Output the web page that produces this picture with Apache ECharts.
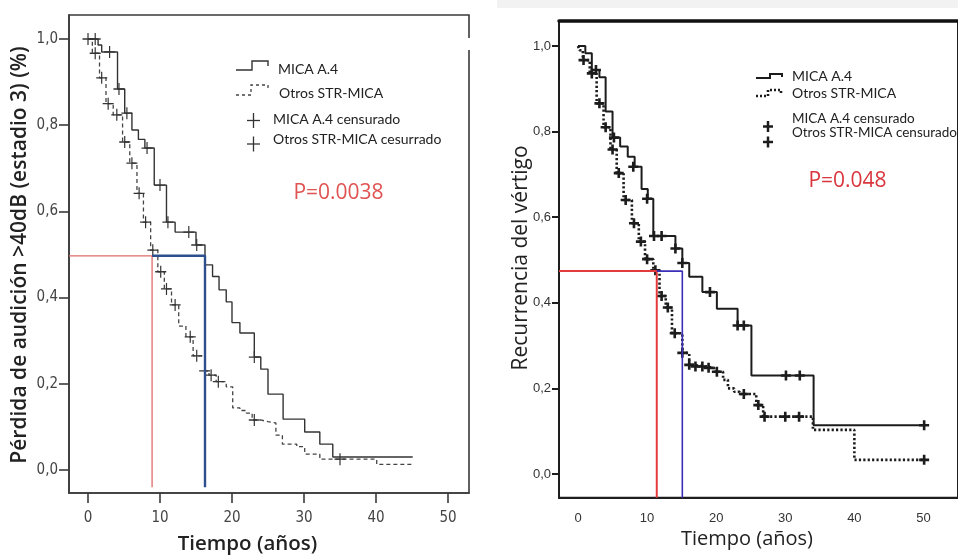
<!DOCTYPE html>
<html><head><meta charset="utf-8">
<script src="https://cdn.jsdelivr.net/npm/echarts@6/dist/echarts.min.js"></script>
<style>html,body{margin:0;padding:0;background:#fff}#c{width:958px;height:557px}</style>
</head><body><div id="c"></div>
<script>
// ---------- shared ticks ----------
const xTickValues = [0, 10, 20, 30, 40, 50];
const yTickValues = [0, 0.2, 0.4, 0.6, 0.8, 1.0];

// ---------- Left panel: hearing loss > 40 dB ----------
const hearingXRange = [-2.64, 52.92];
const hearingYRange = [-0.0534, 1.0557];
const hearingMicaSteps = [[0,1.0],[1.4,0.986],[1.9,0.97],[4.1,0.884],[5.1,0.828],[6.1,0.789],[7.0,0.767],[7.9,0.747],[9.2,0.661],[10.9,0.575],[12.1,0.552],[15.0,0.522],[16.25,0.476],[17.3,0.449],[18.2,0.418],[19.2,0.39],[20.0,0.342],[21.1,0.318],[23.1,0.262],[24.0,0.234],[25.0,0.176],[27.1,0.118],[30.1,0.088],[32.2,0.06],[34.0,0.03],[45.1,0.03]];
const hearingMicaCensored = [[1.0,1.0],[3.0,0.97],[4.3,0.884],[5.4,0.828],[8.2,0.747],[10.0,0.661],[11.1,0.575],[14.0,0.552],[15.1,0.522],[23.1,0.262]];
const hearingOtherSteps = [[0,1.0],[0.6,0.967],[1.6,0.91],[2.5,0.85],[3.5,0.824],[4.8,0.761],[5.8,0.712],[6.8,0.642],[7.7,0.575],[8.7,0.51],[9.7,0.46],[10.6,0.42],[11.6,0.383],[12.6,0.334],[13.6,0.309],[14.6,0.265],[16.2,0.23],[16.8,0.22],[17.8,0.205],[19.2,0.193],[20.1,0.144],[21.1,0.138],[22.0,0.132],[22.8,0.116],[24.0,0.112],[25.0,0.109],[26.1,0.081],[27.0,0.06],[29.0,0.054],[30.1,0.037],[32.2,0.025],[40.1,0.013],[45.1,0.013]];
const hearingOtherCensored = [[0,1.0],[1.0,0.967],[1.9,0.91],[2.8,0.85],[4.0,0.824],[5.1,0.761],[6.1,0.712],[7.1,0.642],[8.0,0.575],[9.0,0.51],[10.1,0.46],[10.9,0.42],[12.1,0.383],[14.2,0.309],[15.1,0.265],[16.2,0.23],[17.1,0.22],[18.1,0.205],[23.1,0.116],[35.0,0.025]];
const hearingMedianLevel = 0.497;
const hearingMedianX = [8.9, 16.25];   // red (other), blue (MICA A.4)
const hearingMedianFloor = -0.04;

// ---------- Right panel: vertigo recurrence ----------
const vertigoXRange = [-2.75, 55];
const vertigoYRange = [-0.0554, 1.0584];
const vertigoMicaSteps = [[0,1.0],[1.06,0.983],[2.0,0.944],[3.1,0.927],[4.0,0.847],[5.0,0.786],[6.1,0.765],[7.2,0.741],[8.2,0.718],[9.2,0.666],[10.1,0.643],[10.9,0.556],[14.1,0.527],[15.1,0.493],[16.1,0.461],[18.0,0.425],[20.1,0.386],[23.1,0.347],[25.1,0.23],[34.1,0.114],[50.1,0.114]];
const vertigoMicaCensored = [[2.6,0.944],[5.2,0.786],[8.0,0.718],[10.0,0.643],[11.0,0.556],[12.1,0.556],[14.1,0.527],[15.1,0.493],[19.1,0.425],[23.1,0.347],[24.0,0.347],[30.1,0.23],[32.1,0.23],[50.1,0.114]];
const vertigoOtherSteps = [[0,1.0],[0.2,0.99],[0.7,0.967],[1.7,0.936],[2.7,0.866],[3.7,0.81],[4.7,0.758],[5.6,0.703],[6.6,0.64],[7.8,0.586],[8.8,0.543],[9.7,0.502],[10.9,0.476],[11.8,0.416],[12.7,0.389],[13.6,0.329],[15.1,0.283],[16.1,0.255],[16.7,0.251],[18.6,0.248],[19.7,0.239],[21.0,0.22],[21.7,0.2],[22.6,0.192],[23.4,0.187],[25.8,0.161],[26.8,0.134],[34.0,0.103],[40.0,0.033],[50.1,0.033]];
const vertigoOtherCensored = [[0.8,0.967],[2.0,0.936],[3.1,0.866],[4.0,0.81],[5.0,0.758],[5.9,0.703],[6.9,0.64],[8.1,0.586],[9.1,0.543],[10.0,0.502],[11.2,0.476],[12.1,0.416],[13.0,0.389],[14.0,0.329],[15.1,0.283],[16.1,0.255],[17.0,0.251],[18.0,0.251],[18.9,0.248],[20.1,0.239],[24.0,0.187],[26.1,0.161],[27.0,0.134],[30.0,0.134],[32.0,0.134],[50.1,0.033]];
const vertigoMedianLevel = 0.474;
const vertigoMedianX = [11.4, 15.1];
const vertigoMedianFloor = -0.0554;

// ---------- text ----------
const legendLabelsLeft = ['MICA A.4', 'Otros STR-MICA', 'MICA A.4 censurado', 'Otros STR-MICA cesurrado'];
const legendLabelsRight = ['MICA A.4', 'Otros STR-MICA', 'MICA A.4 censurado', 'Otros STR-MICA censurado'];
const pValues = ['P=0.0038', 'P=0.048'];
const axisTitles = ['Pérdida de audición >40dB (estadio 3) (%)', 'Tiempo (años)', 'Recurrencia del vértigo', 'Tiempo (años)'];

const plusThin = 'path://M-0.65,-6H0.65V-0.65H6V0.65H0.65V6H-0.65V0.65H-6V-0.65H-0.65Z';
const plusBold = 'path://M-1.3,-5H1.3V-1.3H5V1.3H1.3V5H-1.3V1.3H-5V-1.3H-1.3Z';
const comma = v => v.toFixed(1).replace('.', ',');

const chart = echarts.init(document.getElementById('c'), null, {renderer: 'canvas'});

function xAxisCfg(grid, range, opts) {
  return {
    type: 'value', gridIndex: grid, min: range[0], max: range[1],
    splitLine: {show: false},
    axisLine: {show: true, onZero: false, lineStyle: {color: opts.axisColor, width: opts.axisWidth}},
    axisTick: {show: opts.ticks, customValues: xTickValues, length: opts.tickLen, lineStyle: {color: opts.axisColor, width: opts.axisWidth}},
    axisLabel: {customValues: xTickValues, margin: opts.xMargin, color: opts.labelColor,
      fontFamily: opts.labelFont, fontSize: opts.labelSize, formatter: v => String(v)}
  };
}
function yAxisCfg(grid, range, opts) {
  return {
    type: 'value', gridIndex: grid, min: range[0], max: range[1],
    splitLine: {show: false},
    axisLine: {show: true, onZero: false, lineStyle: {color: opts.axisColor, width: opts.axisWidth}},
    axisTick: {show: true, customValues: yTickValues, length: opts.tickLen, lineStyle: {color: opts.axisColor, width: opts.axisWidth}},
    axisLabel: {customValues: yTickValues, margin: opts.yMargin, color: opts.labelColor,
      fontFamily: opts.labelFont, fontSize: opts.labelSize, formatter: comma}
  };
}

const leftOpts = {axisColor: '#3a3a3a', axisWidth: 1.6, ticks: true, tickLen: 10, xMargin: 18, yMargin: 11, labelColor: '#444',
  labelFont: "'Liberation Sans Narrow', 'DejaVu Sans Condensed', sans-serif", labelSize: 15};
const rightOpts = {axisColor: '#1e1e1e', axisWidth: 2, ticks: false, tickLen: 7, xMargin: 14, yMargin: 8, labelColor: '#333',
  labelFont: "'Liberation Sans', Arial, sans-serif", labelSize: 13};

function stepSeries(data, xi, color, width, dash, z) {
  return {type: 'line', data: data, step: 'end', xAxisIndex: xi, yAxisIndex: xi, symbol: 'none',
    lineStyle: {color: color, width: width, type: dash}, silent: true, z: z};
}
function censorSeries(data, xi, sym, size, color) {
  return {type: 'scatter', data: data, xAxisIndex: xi, yAxisIndex: xi, symbol: sym, symbolSize: size,
    itemStyle: {color: color, opacity: 1}, silent: true, z: 4};
}
function refSeries(points, xi, color, width) {
  return {type: 'line', data: points, xAxisIndex: xi, yAxisIndex: xi, symbol: 'none',
    lineStyle: {color: color, width: width}, silent: true, z: 5};
}

const hearingRed = [[hearingXRange[0], hearingMedianLevel], [hearingMedianX[0], hearingMedianLevel], [hearingMedianX[0], hearingMedianFloor]];
const hearingBlue = [[hearingMedianX[0], hearingMedianLevel], [hearingMedianX[1], hearingMedianLevel], [hearingMedianX[1], hearingMedianFloor]];
const vertigoRed = [[vertigoXRange[0], vertigoMedianLevel], [vertigoMedianX[0], vertigoMedianLevel], [vertigoMedianX[0], vertigoMedianFloor]];
const vertigoBlue = [[vertigoMedianX[0], vertigoMedianLevel], [vertigoMedianX[1], vertigoMedianLevel], [vertigoMedianX[1], vertigoMedianFloor]];

const txtFont = "'Open Sans', 'Noto Sans', sans-serif";
const legFont = "Lato, 'Open Sans', sans-serif";
function T(x, y, text, size, opts) {
  opts = opts || {};
  return {type: 'text', x: x, y: y, rotation: opts.rot || 0, z: 100, silent: true,
    style: {text: text, fontSize: size, fontFamily: opts.font || txtFont, fontWeight: opts.weight || 'normal',
      fill: opts.color || '#222', align: opts.align || 'left', verticalAlign: 'middle'}};
}
function PL(points, color, width, dash) {
  return {type: 'polyline', z: 100, silent: true, shape: {points: points},
    style: {stroke: color, lineWidth: width, fill: null, lineDash: dash || null}};
}
function plus(cx, cy, w, h, color, lw) {
  return {type: 'group', z: 100, silent: true, children: [
    {type: 'line', shape: {x1: cx - w / 2, y1: cy, x2: cx + w / 2, y2: cy}, style: {stroke: color, lineWidth: lw}},
    {type: 'line', shape: {x1: cx, y1: cy - h / 2, x2: cx, y2: cy + h / 2}, style: {stroke: color, lineWidth: lw}}
  ]};
}

const option = {
  animation: false,
  backgroundColor: '#fff',
  grid: [
    {left: 69, top: 15, width: 400, height: 478, show: true, borderColor: '#3a3a3a', borderWidth: 1.6, containLabel: false},
    {left: 559, top: 21, width: 419.3, height: 476.7, show: true, borderColor: '#1e1e1e', borderWidth: 2, containLabel: false}
  ],
  xAxis: [
    xAxisCfg(0, hearingXRange, leftOpts),
    xAxisCfg(1, vertigoXRange, rightOpts),
    {type: 'value', gridIndex: 1, position: 'top', min: vertigoXRange[0], max: vertigoXRange[1],
      axisLine: {show: true, onZero: false, lineStyle: {color: '#111', width: 3.5}},
      axisTick: {show: false}, axisLabel: {show: false}, splitLine: {show: false}}
  ],
  yAxis: [
    yAxisCfg(0, hearingYRange, leftOpts),
    yAxisCfg(1, vertigoYRange, rightOpts)
  ],
  series: [
    stepSeries(hearingMicaSteps, 0, '#333', 1.4, 'solid', 3),
    stepSeries(hearingOtherSteps, 0, '#444', 1.3, [4, 3], 3),
    censorSeries(hearingMicaCensored, 0, plusThin, [11, 12], '#333'),
    censorSeries(hearingOtherCensored, 0, plusThin, [11, 12], '#333'),
    refSeries(hearingRed, 0, '#e06a6a', 1.3),
    refSeries(hearingBlue, 0, '#2d4f8e', 2.4),
    stepSeries(vertigoMicaSteps, 1, '#1c1c1c', 2, 'solid', 3),
    stepSeries(vertigoOtherSteps, 1, '#1c1c1c', 2.6, [2.2, 2.2], 3),
    censorSeries(vertigoMicaCensored, 1, plusBold, [10, 10], '#1c1c1c'),
    censorSeries(vertigoOtherCensored, 1, plusBold, [10, 10], '#1c1c1c'),
    refSeries(vertigoRed, 1, '#e33b3b', 2),
    refSeries(vertigoBlue, 1, '#3b2fb8', 1.6)
  ],
  graphic: [
    {type: 'rect', shape: {x: 497, y: 0, width: 461, height: 8}, style: {fill: '#f2f2f2'}, z: 1, silent: true},
    {type: 'rect', shape: {x: 465, y: 38, width: 8, height: 12}, style: {fill: '#fff'}, z: 100, silent: true},
    // left legend
    PL([[236, 70], [252, 70], [252, 61], [268, 61], [268, 66]], '#333', 1.4),
    PL([[236, 95], [251, 95], [251, 85], [268, 85], [268, 89]], '#444', 1.3, [3, 3]),
    plus(253.5, 120.5, 13, 15, '#333', 1.3),
    plus(253.5, 144, 13, 15, '#333', 1.3),
    T(278, 69, legendLabelsLeft[0], 14, {font: legFont}),
    T(279, 93, legendLabelsLeft[1], 14, {font: legFont}),
    T(273, 119.5, legendLabelsLeft[2], 14, {font: legFont}),
    T(273, 139, legendLabelsLeft[3], 14, {font: legFont}),
    T(338.5, 193, pValues[0], 21, {align: 'center', color: '#e05353'}),
    // right legend
    PL([[756, 78], [770, 78], [770, 74], [782, 74], [782, 77]], '#1c1c1c', 2),
    PL([[756, 96], [768, 96], [768, 90], [781, 90], [781, 95]], '#1c1c1c', 2.6, [2, 2]),
    plus(768, 126.5, 10, 11, '#1c1c1c', 2.5),
    plus(768, 142, 10, 11, '#1c1c1c', 2.5),
    T(792, 76, legendLabelsRight[0], 14, {font: legFont}),
    T(792, 93, legendLabelsRight[1], 14, {font: legFont}),
    T(792, 118.5, legendLabelsRight[2], 13.5, {font: legFont}),
    T(792, 132.5, legendLabelsRight[3], 13.5, {font: legFont}),
    T(847.5, 181, pValues[1], 21, {align: 'center', color: '#d9363e', weight: 500}),
    // axis titles
    T(20, 255, axisTitles[0], 21, {align: 'center', rot: Math.PI / 2, weight: 600}),
    T(247.5, 544, axisTitles[1], 20.5, {align: 'center', weight: 600}),
    T(521, 258, axisTitles[2], 21, {align: 'center', rot: Math.PI / 2, weight: 500}),
    T(747, 539, axisTitles[3], 20, {align: 'center', weight: 500})
  ]
};
chart.setOption(option);
</script></body></html>
